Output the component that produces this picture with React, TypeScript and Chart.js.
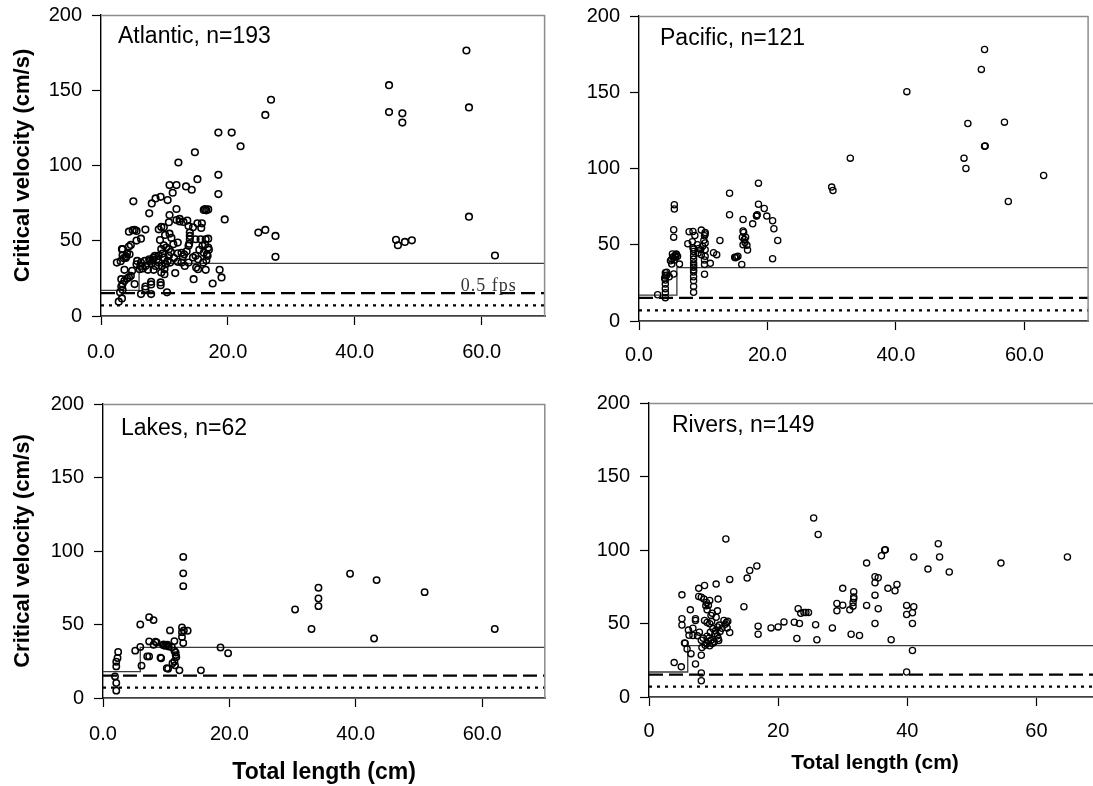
import React, { useEffect, useRef } from "react";
import { Chart, registerables } from "chart.js";

Chart.register(...registerables);

// ---------------- data ----------------
const atlanticLength = [
  57.6, 45.4, 26.8, 25.9, 58.0, 45.4, 47.5, 47.5, 18.5, 20.6, 22.0, 14.8, 12.2, 18.5, 15.2, 10.8, 11.9, 13.4, 14.3, 11.3,
  18.5, 10.5, 5.1, 9.4, 8.6, 8.0, 7.6, 11.9, 10.8, 12.4, 10.7, 13.6, 19.5, 16.2, 16.4, 16.6, 16.9, 24.8, 25.9, 27.5,
  27.5, 58.0, 46.5, 46.8, 47.9, 49.0, 62.1,
  5.0, 5.3, 5.6, 4.4, 7.0, 6.3, 5.6, 4.7, 4.4, 3.4, 9.1, 9.9, 9.5, 10.1, 10.8, 11.1, 11.9, 12.4, 13.0, 13.8,
  14.5, 15.2, 15.9, 15.8, 14.0, 14.0, 14.0, 14.9, 15.7, 16.5, 16.9, 16.0, 16.9, 13.8, 12.1, 11.4, 9.9, 10.7, 9.5, 12.7,
  13.1, 13.5, 12.1, 11.0, 10.7, 9.9, 9.1, 8.3, 7.6, 6.9, 6.3, 5.7, 5.6, 6.1, 6.6, 7.4, 8.3, 8.6, 9.1, 9.6,
  10.0, 9.5, 10.0, 10.2, 10.5, 10.9, 11.7, 12.1, 12.7, 13.2, 13.8, 14.5, 14.9, 15.3, 14.6, 15.0, 15.3, 16.1, 16.6, 16.5,
  16.7, 17.0, 16.8, 18.7, 19.0, 17.6, 7.9, 7.9, 9.4, 9.4, 10.4, 7.9, 6.3, 7.0, 7.0, 5.3, 4.7, 4.4, 4.1, 4.9,
  3.7, 3.2, 3.7, 3.4, 3.2, 3.4, 3.0, 3.3, 2.8, 2.5, 3.1, 3.6, 3.9, 3.4, 4.0, 3.3, 4.1, 4.5, 6.2, 7.0,
  7.7, 8.8, 8.5, 8.2, 9.3, 10.3, 12.9, 11.5, 13.9, 16.2, 16.4, 8.0, 9.7, 15.5,
];
const atlanticVelocity = [
  176.4, 153.4, 143.7, 133.6, 138.6, 135.5, 134.7, 128.5, 121.9, 121.9, 112.8, 108.8, 102, 93.8, 90.9, 87, 87, 86.1, 83.9, 81.9,
  81, 77, 76.2, 79.2, 78.1, 74.8, 68.2, 71.1, 67.1, 64.5, 62.3, 63.4, 64.2, 70.5, 71, 70.2, 70.8, 55.4, 57.2, 53.2,
  39.3, 66, 50.6, 47, 49.2, 50.3, 40.2,
  57, 57.2, 56.5, 56, 57.4, 51.4, 50.1, 47.2, 46.1, 44.4, 57.6, 58.9, 59.2, 53.9, 54.7, 51.9, 63.8, 62.8, 62.5, 59.8,
  58.9, 61.6, 61.6, 58.5, 55.4, 53.2, 51, 51, 51, 51, 51.4, 46.6, 45.5, 46.6, 48.8, 47.7, 47, 44.4, 44.4, 42,
  41, 43, 41.7, 42.6, 40, 38.9, 40, 38.9, 37.7, 36.6, 35.5, 36.6, 34.4, 31.1, 31.6, 30.7, 30.7, 33.3, 35.5, 33.3,
  31.1, 28.9, 27.8, 34.4, 36.6, 35.5, 28.5, 36, 35.5, 33.3, 35.5, 38.9, 40, 37.7, 24.5, 32.2, 31.1, 35.5, 37, 30.7,
  41, 44.1, 40, 30.7, 25.6, 21.6, 21, 22.7, 20.5, 22.3, 15.7, 14.6, 14.6, 19.6, 17.9, 21.2, 26.7, 25.6, 24.9, 30,
  30.7, 24.5, 23.4, 21.2, 19.6, 17.4, 15.7, 11.7, 9.5, 35.5, 36.4, 38.4, 38.6, 40.4, 39.5, 44.4, 41.5, 41, 33.3, 33.3,
  36.6, 37.7, 40, 37.5, 50.5, 45.5, 39.5, 38.5, 48, 42, 47.5, 35, 41.5, 44,
];

const pacificLength = [
  53.8, 53.3, 41.7, 51.2, 56.9, 53.8, 53.9, 32.9, 50.6, 50.9, 63.0, 18.6, 30.0, 30.2, 14.1, 57.5, 18.6, 19.5, 19.9, 20.8,
  21.0, 21.6, 20.8, 14.1, 16.2, 17.7, 18.3, 18.4, 16.2, 16.3, 16.4, 16.2, 16.8, 16.9, 15.0, 15.2, 14.9, 16.0, 12.6, 11.6,
  12.1, 11.1, 10.3, 10.2, 10.3, 10.3, 10.3, 10.3, 10.2, 10.2, 9.7, 9.6, 9.7, 9.1, 8.7, 8.4, 7.8, 7.6, 8.5, 8.5,
  8.5, 8.5, 8.5, 8.5, 8.5, 8.5, 8.5, 8.5, 9.2, 5.5, 5.5, 5.4, 5.4, 5.6, 5.8, 6.0, 5.3, 5.1, 5.1, 6.3,
  5.4, 4.7, 4.1, 4.1, 4.1, 4.1, 4.1, 4.1, 4.1, 2.9, 4.9, 5.8, 5.2, 8.4, 8.5, 9.9, 10.1, 9.3, 8.3, 15.4,
  16.1, 16.6, 16.5, 18.3, 5.5, 5.7, 8.5, 8.5, 10.2, 4.3, 4.3, 4.0,
];
const pacificVelocity = [
  178, 165, 150.4, 129.5, 130.4, 114.6, 114.8, 106.8, 106.8, 100, 95.4, 90.4, 87.8, 85.6, 83.8, 78.4, 76.6, 73.8, 68.8, 65.7,
  60.5, 52.8, 40.8, 69.7, 66.6, 63.7, 68.8, 69.7, 59, 58, 53.5, 50, 49.6, 46.5, 41.5, 42, 41.8, 37.1, 52.8, 44.8,
  43.5, 37.8, 57, 55.9, 58, 51.1, 46.7, 42.4, 37.1, 30.7, 59.6, 46.7, 43.5, 50, 56.1, 58.7, 58.5, 50.7, 45.6, 42.8,
  40.6, 38, 35.2, 32.1, 29, 26.4, 22.7, 18.8, 44.6, 76.2, 73.4, 59.8, 55, 43, 43.5, 42.5, 42, 40.5, 37.3, 37.3,
  30.8, 29, 31.7, 29.5, 26.9, 24.3, 21.2, 18.6, 15.3, 17.2, 39.5, 44, 44, 48, 47, 49, 53, 47.5, 52, 42.5,
  55, 55, 51.5, 69, 40, 41.8, 36.5, 33.5, 40, 32, 30, 28,
];

const lakesLength = [
  12.7, 12.7, 12.7, 39.1, 43.3, 34.1, 34.1, 34.1, 50.9, 30.4, 33.0, 42.9, 62.0, 7.3, 8.0, 5.9, 10.6, 12.5, 12.5, 12.5,
  13.4, 12.7, 11.3, 7.3, 8.0, 8.3, 5.9, 5.1, 9.5, 9.8, 10.4, 10.2, 11.3, 11.5, 11.6, 11.3, 11.4, 11.0, 12.1, 10.3,
  10.1, 9.2, 9.1, 7.0, 7.3, 6.1, 2.4, 2.3, 2.1, 2.1, 1.9, 2.1, 2.1, 15.5, 18.6, 19.8, 8.5, 10.0, 11.5, 12.8,
  9.6, 10.9,
];
const lakesVelocity = [
  96, 84.8, 76.1, 84.5, 80.2, 75, 67.7, 62.5, 72, 60.2, 46.9, 40.5, 46.9, 55, 53, 50, 46, 48, 44.8, 41.5,
  45.7, 37.4, 38.7, 38.5, 36.2, 38.3, 34.7, 32.2, 36, 35.5, 35, 36.2, 32.2, 29.2, 27.9, 24.9, 22.2, 23.6, 18.8, 19.9,
  20.3, 27, 27.5, 28.3, 28.3, 22, 31.3, 27.2, 24.7, 21.5, 14.7, 10.2, 5, 18.8, 34.4, 30.4, 37.8, 35.8, 31, 46,
  36.5, 34.5,
];

const riversLength = [
  25.5, 26.2, 11.9, 44.8, 36.6, 36.5, 36.0, 41.0, 45.0, 64.8, 33.7, 54.5, 43.2, 46.5, 16.7, 15.6, 15.2, 12.5, 10.4, 8.6,
  7.7, 7.7, 8.1, 8.5, 8.9, 9.4, 10.7, 5.1, 6.4, 9.0, 10.6, 9.8, 7.2, 7.2, 5.1, 5.1, 8.6, 9.0, 9.4, 9.7,
  10.4, 11.6, 12.0, 6.8, 6.1, 6.2, 6.8, 7.5, 8.1, 9.0, 9.3, 9.6, 9.9, 10.3, 10.6, 10.9, 11.3, 12.1, 12.5, 10.6,
  10.7, 10.1, 9.8, 9.0, 8.7, 9.4, 8.2, 5.5, 5.6, 5.9, 6.5, 8.1, 7.2, 3.9, 5.0, 8.1, 8.1, 14.7, 16.9, 16.9,
  18.9, 20.0, 20.9, 22.5, 22.9, 23.1, 23.5, 24.0, 24.3, 24.7, 23.3, 25.8, 26.0, 28.4, 29.1, 29.1, 30.0, 30.0, 31.1, 31.3,
  31.6, 31.6, 31.7, 31.7, 31.7, 32.6, 33.7, 35.0, 35.5, 35.0, 35.0, 35.5, 35.0, 37.0, 38.1, 38.4, 37.5, 39.9, 39.9, 41.0,
  40.8, 40.8, 40.8, 39.9, 10.2, 11.0, 9.5, 8.4, 7.8, 10.8, 9.2, 11.8, 12.2, 9.6, 9.2, 8.8,
];
const riversVelocity = [
  121.8, 110.5, 107.5, 104.3, 100.2, 100, 96.1, 95.2, 95.2, 95.2, 91.1, 91.1, 87, 85, 89.1, 86.1, 80.9, 80, 76.8, 75.9,
  73.9, 68.4, 67.9, 66.6, 64.3, 65.7, 66.6, 69.5, 59.3, 59.3, 58.6, 57, 53.2, 52, 53.2, 49, 52, 50.7, 49.8, 51.4,
  54.3, 52, 50.7, 46.8, 45.5, 42, 41.8, 41.6, 38.6, 41.4, 40, 38.6, 46.6, 45, 47.7, 48.9, 46.8, 47, 43.9, 41.6,
  39.8, 37.5, 36.4, 36.4, 35.2, 34.8, 33.6, 36.8, 36.6, 32.7, 29.5, 28.4, 22.5, 23.4, 20.5, 16.4, 11.1, 61.4, 48.2, 42.7,
  47, 47.7, 51.1, 50.9, 39.8, 60, 57, 57.5, 57.5, 57.5, 50, 49.1, 38.9, 47, 63.6, 58.6, 73.9, 62.5, 59.3, 42.7,
  61.8, 64.3, 66.8, 68, 71.6, 41.8, 62.3, 81.8, 81.1, 77.7, 69.3, 60, 50, 73.9, 72.3, 76.6, 38.9, 62.3, 56.1, 61.4,
  57.3, 50, 31.6, 17, 43, 44.5, 44, 40, 44, 38.5, 38, 49.5, 51.5, 55.5, 62.5, 62,
];

const panelLabels = ["Atlantic, n=193", "Pacific, n=121", "Lakes, n=62", "Rivers, n=149"];
const yTickValues = [0, 50, 100, 150, 200];
const xTickValues = [0, 20, 40, 60];
const xTickDecimals = [1, 1, 1, 0];
const lengthRange = [0, 70];
const velocityRange = [0, 200];
const dashedLevel = 15.2; // 0.5 fps
const dottedLevel = 7;
const stepLow = [17, 17, 18, 17];
const stepHigh = [35, 35, 34.5, 35];
const stepAt = [6, 5.9, 5.9, 6];
const noteText = "0.5 fps";
const noteAt = [56.7, 15.2];
const yTitle = "Critical velocity (cm/s)";
const xTitle = "Total length (cm)";

// ---------------- layout (styles only) ----------------
type Spec = {
  idx: number;
  xs: number[];
  ys: number[];
  box: { x: number; y: number; w: number; h: number };
  yWidth: number;
  xHeight: number;
  padTop: number;
  padRight: number;
  showYTitle: boolean;
  showXTitle: boolean;
  xTitleSize: number;
  xTitlePad: number;
  xTickPad: number;
  rightBorder: boolean;
  labelDx: number;
  labelDy: number;
  note: boolean;
  pointRadius: number;
  pointBorder: number;
};

const specs: Spec[] = [
  {
    idx: 0, xs: atlanticLength, ys: atlanticVelocity,
    box: { x: 0, y: 0, w: 550, h: 380 }, yWidth: 101, xHeight: 64, padTop: 15, padRight: 2,
    showYTitle: true, showXTitle: false, xTitleSize: 22, xTitlePad: 0, xTickPad: 15,
    rightBorder: true, labelDx: 17, labelDy: 28, note: true, pointRadius: 3.3, pointBorder: 1.6,
  },
  {
    idx: 1, xs: pacificLength, ys: pacificVelocity,
    box: { x: 550, y: 0, w: 543, h: 380 }, yWidth: 89, xHeight: 59, padTop: 16, padRight: 3,
    showYTitle: false, showXTitle: false, xTitleSize: 22, xTitlePad: 0, xTickPad: 13,
    rightBorder: true, labelDx: 21, labelDy: 29, note: false, pointRadius: 3.1, pointBorder: 1.3,
  },
  {
    idx: 2, xs: lakesLength, ys: lakesVelocity,
    box: { x: 0, y: 380, w: 550, h: 406 }, yWidth: 103, xHeight: 88, padTop: 24, padRight: 1,
    showYTitle: true, showXTitle: true, xTitleSize: 23, xTitlePad: 0, xTickPad: 15,
    rightBorder: true, labelDx: 18, labelDy: 31, note: false, pointRadius: 3.2, pointBorder: 1.5,
  },
  {
    idx: 3, xs: riversLength, ys: riversVelocity,
    box: { x: 550, y: 380, w: 560, h: 406 }, yWidth: 99, xHeight: 89, padTop: 23, padRight: 9,
    showYTitle: false, showXTitle: true, xTitleSize: 21, xTitlePad: 10, xTickPad: 13,
    rightBorder: false, labelDx: 23, labelDy: 29, note: false, pointRadius: 3.1, pointBorder: 1.3,
  },
];

const SANS = '"Liberation Sans", Arial, sans-serif';
const SERIF = '"Liberation Serif", "Times New Roman", serif';

const decorPlugin = {
  id: "decor",
  afterDatasetsDraw(chart: any, _args: any, opts: any) {
    const { ctx, chartArea } = chart;
    const { left, top, right, bottom } = chartArea;
    ctx.save();
    ctx.strokeStyle = "#8c8c8c";
    ctx.lineWidth = 1.5;
    ctx.beginPath();
    ctx.moveTo(left, top + 0.5);
    ctx.lineTo(right, top + 0.5);
    if (opts.rightBorder) {
      ctx.moveTo(right - 0.5, top);
      ctx.lineTo(right - 0.5, bottom);
    }
    ctx.stroke();
    ctx.fillStyle = "#000";
    ctx.font = `23px ${SANS}`;
    ctx.textBaseline = "alphabetic";
    ctx.textAlign = "left";
    ctx.fillText(opts.label, left + opts.labelDx, top + opts.labelDy);
    if (opts.note) {
      const x = chart.scales.x.getPixelForValue(noteAt[0]);
      const y = chart.scales.y.getPixelForValue(noteAt[1]);
      ctx.font = `18px ${SERIF}`;
      ctx.fillStyle = "#333";
      try { (ctx as any).letterSpacing = "1px"; } catch (e) { /* ignore */ }
      ctx.fillText(noteText, x, y - 2);
    }
    ctx.restore();
  },
};

function buildConfig(s: Spec): any {
  const i = s.idx;
  const points = s.xs.map((x, k) => ({ x, y: s.ys[k] }));
  const step = [
    { x: lengthRange[0], y: stepLow[i] },
    { x: stepAt[i], y: stepLow[i] },
    { x: stepAt[i], y: stepHigh[i] },
    { x: lengthRange[1], y: stepHigh[i] },
  ];
  const dashed = [
    { x: lengthRange[0], y: dashedLevel },
    { x: lengthRange[1], y: dashedLevel },
  ];
  const dotted = [
    { x: lengthRange[0], y: dottedLevel },
    { x: lengthRange[1], y: dottedLevel },
  ];
  const lineBase = { showLine: true, pointRadius: 0, pointHoverRadius: 0, fill: false, tension: 0 };
  return {
    type: "scatter",
    data: {
      datasets: [
        {
          data: points, order: 0, pointRadius: s.pointRadius, pointHoverRadius: s.pointRadius,
          pointBorderWidth: s.pointBorder, borderColor: "#000", backgroundColor: "rgba(0,0,0,0)",
          pointBackgroundColor: "rgba(0,0,0,0)", pointBorderColor: "#000", showLine: false,
        },
        { ...lineBase, data: step, order: 1, borderColor: "#3a3a3a", borderWidth: 1.3 },
        { ...lineBase, data: dashed, order: 2, borderColor: "#000", borderWidth: 2.2, borderDash: [14, 6] },
        { ...lineBase, data: dotted, order: 3, borderColor: "#000", borderWidth: 2.2, borderDash: [3, 5] },
      ],
    },
    options: {
      animation: false,
      responsive: false,
      devicePixelRatio: 1,
      events: [],
      layout: { padding: { top: s.padTop, right: s.padRight, left: 0, bottom: 0 } },
      plugins: {
        legend: { display: false },
        tooltip: { enabled: false },
        decor: {
          label: panelLabels[i], labelDx: s.labelDx, labelDy: s.labelDy,
          rightBorder: s.rightBorder, note: s.note,
        },
      },
      scales: {
        x: {
          type: "linear",
          min: lengthRange[0],
          max: lengthRange[1],
          afterFit: (sc: any) => {
            sc.height = s.xHeight;
            sc.paddingLeft = 0;
            sc.paddingRight = 0;
          },
          afterBuildTicks: (sc: any) => { sc.ticks = xTickValues.map((v) => ({ value: v })); },
          ticks: {
            color: "#000",
            font: { family: SANS, size: 20 },
            padding: s.xTickPad,
            maxRotation: 0,
            autoSkip: false,
            callback: (v: any) => Number(v).toFixed(xTickDecimals[i]),
          },
          grid: { display: true, drawOnChartArea: false, drawTicks: true, tickLength: 9, tickColor: "#000", tickWidth: 1.2 },
          border: { display: true, color: "#404040", width: 1.8 },
          title: {
            display: s.showXTitle, text: xTitle, color: "#000",
            font: { family: SANS, size: s.xTitleSize, weight: "bold" },
            padding: { top: 0, bottom: s.xTitlePad },
          },
        },
        y: {
          type: "linear",
          min: velocityRange[0],
          max: velocityRange[1],
          afterFit: (sc: any) => {
            sc.width = s.yWidth;
            sc.paddingTop = 0;
            sc.paddingBottom = 0;
          },
          afterBuildTicks: (sc: any) => { sc.ticks = yTickValues.map((v) => ({ value: v })); },
          ticks: {
            color: "#000",
            font: { family: SANS, size: 20 },
            padding: 10,
            autoSkip: false,
            callback: (v: any) => String(v),
          },
          grid: { display: true, drawOnChartArea: false, drawTicks: true, tickLength: 9, tickColor: "#000", tickWidth: 1.2 },
          border: { display: true, color: "#000", width: 1.4 },
          title: {
            display: s.showYTitle, text: yTitle, color: "#000",
            font: { family: SANS, size: 22, weight: "bold" },
            padding: { top: 10, bottom: 0 },
          },
        },
      },
    },
    plugins: [decorPlugin],
  };
}

function Panel({ spec }: { spec: Spec }) {
  const ref = useRef<HTMLCanvasElement>(null);
  useEffect(() => {
    if (!ref.current) return;
    const chart = new Chart(ref.current, buildConfig(spec));
    return () => chart.destroy();
  }, [spec]);
  const { x, y, w, h } = spec.box;
  return (
    <canvas
      ref={ref}
      width={w}
      height={h}
      style={{ position: "absolute", left: x, top: y, width: w, height: h }}
    />
  );
}

export default function App() {
  return (
    <div
      style={{
        position: "fixed", left: 0, top: 0, width: 1093, height: 786,
        overflow: "hidden", background: "#fff",
      }}
    >
      {specs.map((s) => (
        <Panel key={s.idx} spec={s} />
      ))}
    </div>
  );
}
